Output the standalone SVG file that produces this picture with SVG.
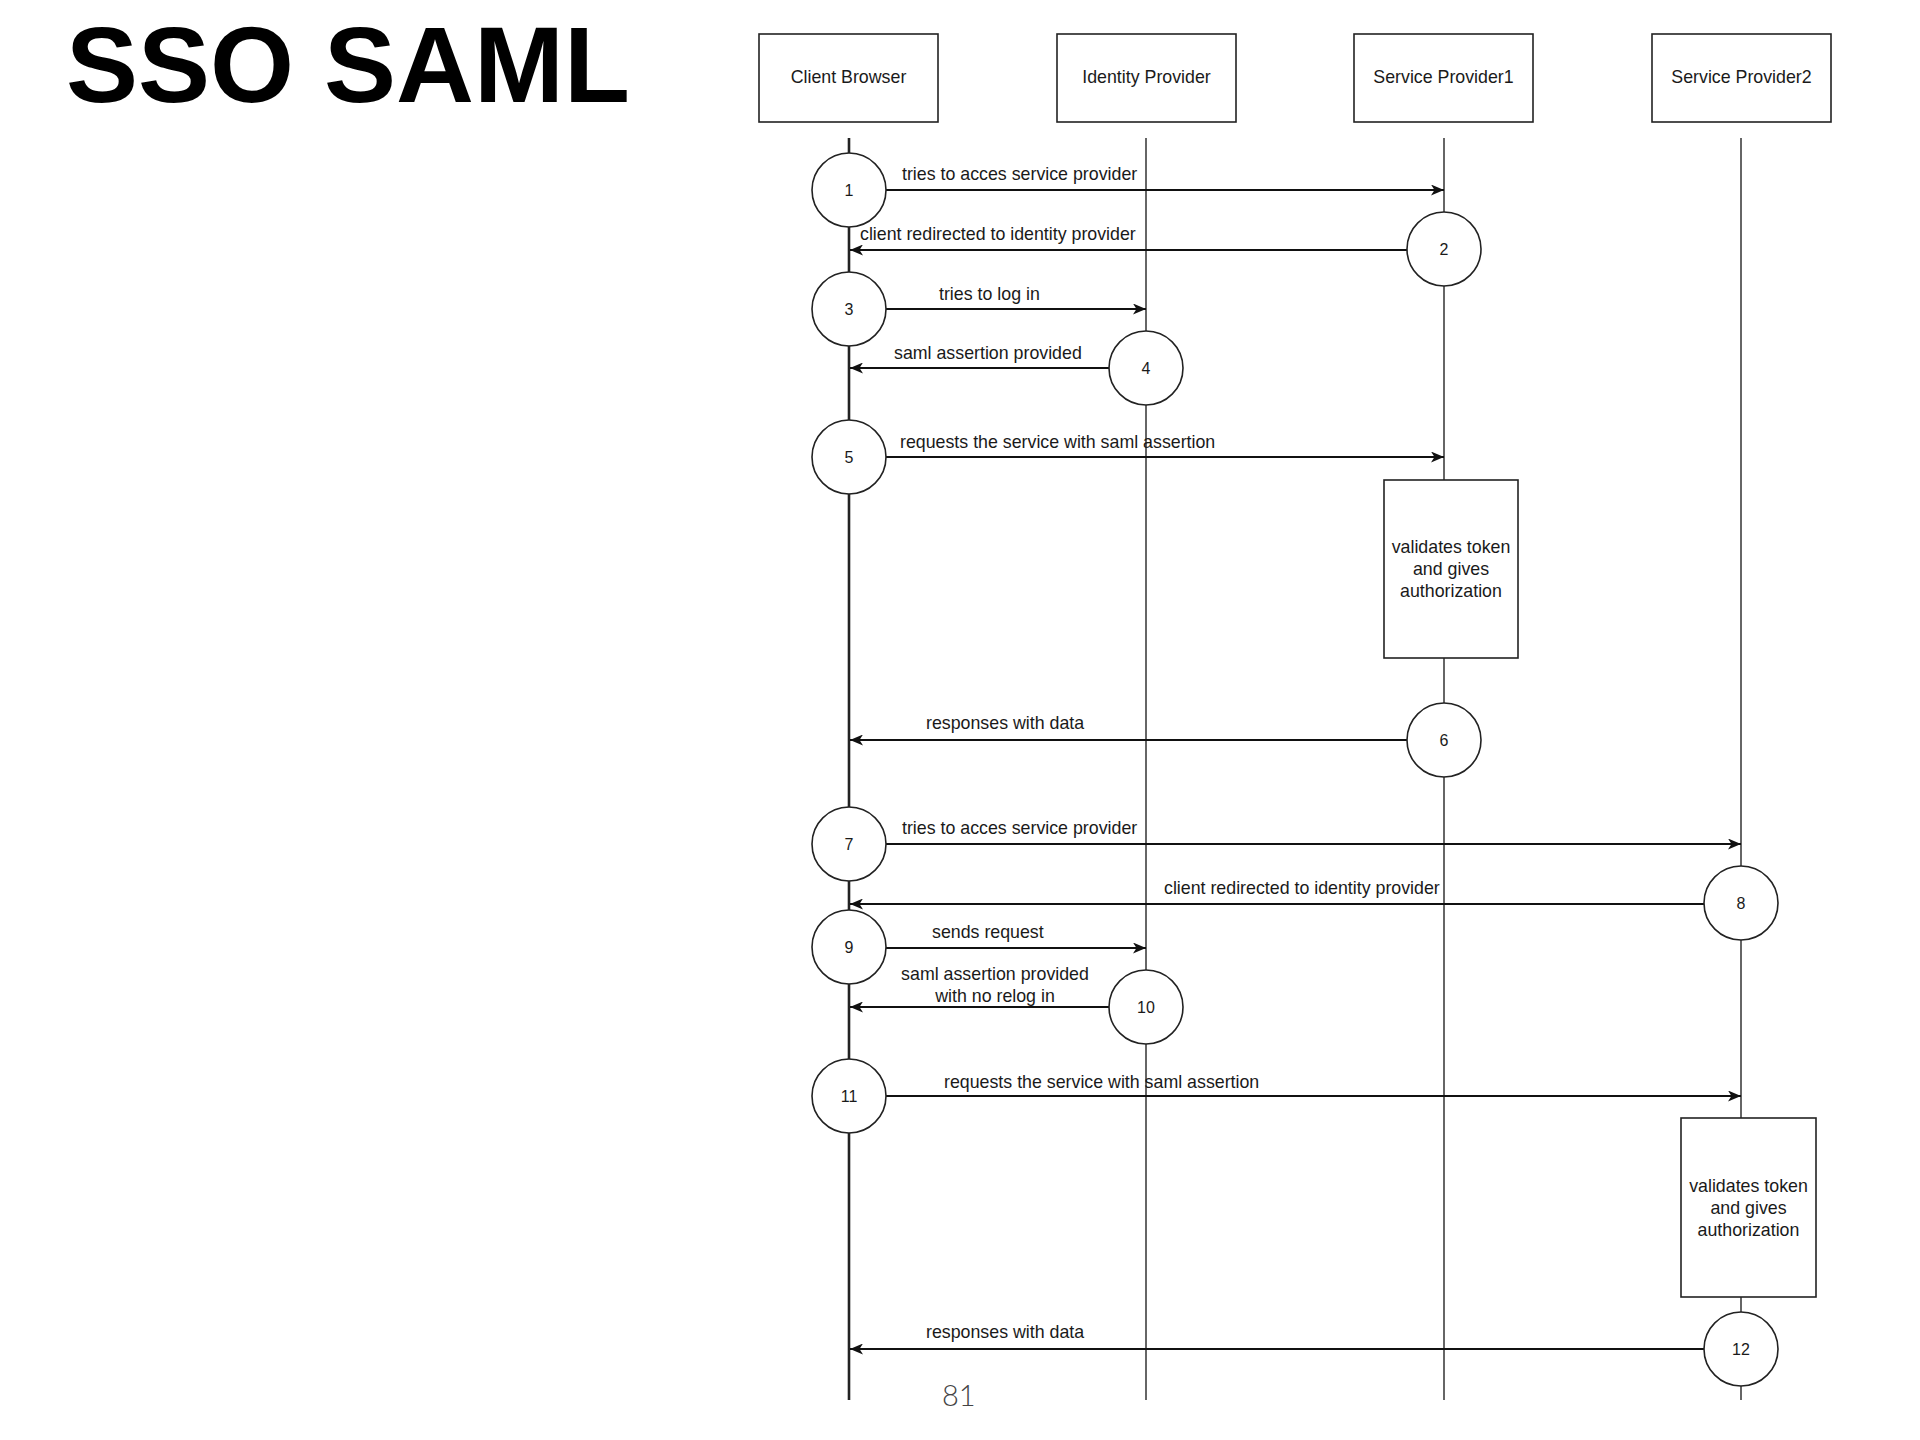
<svg xmlns="http://www.w3.org/2000/svg" width="1920" height="1440" viewBox="0 0 1920 1440">
<defs>
<marker id="ah" viewBox="0 0 13 11" refX="13" refY="5.5" markerWidth="13" markerHeight="11" markerUnits="userSpaceOnUse" orient="auto">
<path d="M0,0 L13,5.5 L0,11 L3.5,5.5 Z" fill="#111"/>
</marker>
</defs>
<style>
.box{fill:#fff;stroke:#222;stroke-width:1.6}
.life{stroke:#333;stroke-width:1.5;fill:none}
.life0{stroke:#222;stroke-width:2.6;fill:none}
.circ{fill:#fff;stroke:#222;stroke-width:1.6}
.msg{stroke:#111;stroke-width:1.8;fill:none;marker-end:url(#ah)}
.t{font-family:"Liberation Sans",Arial,sans-serif;font-size:17.8px;fill:#1a1a1a}
.c{text-anchor:middle}
.n{font-family:"Liberation Sans",Arial,sans-serif;font-size:16px;fill:#1a1a1a;text-anchor:middle}
</style>
<rect width="1920" height="1440" fill="#fff"/>
<text x="66" y="102" font-family="Liberation Sans, Arial, sans-serif" font-weight="bold" font-size="108" fill="#000">SSO SAML</text>
<text x="942" y="1406" font-family="Lato, 'Open Sans', sans-serif" font-weight="300" font-size="29" fill="#444">81</text>

<g id="lifelines">
<line class="life0" x1="849" y1="138" x2="849" y2="1400"/>
<line class="life" x1="1146" y1="138" x2="1146" y2="1400"/>
<line class="life" x1="1444" y1="138" x2="1444" y2="1400"/>
<line class="life" x1="1741" y1="138" x2="1741" y2="1400"/>
</g>

<g id="client-browser"><rect class="box" x="759" y="34" width="179" height="88"/><text class="t c" x="848.5" y="83">Client Browser</text></g>
<g id="identity-provider"><rect class="box" x="1057" y="34" width="179" height="88"/><text class="t c" x="1146.5" y="83">Identity Provider</text></g>
<g id="service-provider1"><rect class="box" x="1354" y="34" width="179" height="88"/><text class="t c" x="1443.5" y="83">Service Provider1</text></g>
<g id="service-provider2"><rect class="box" x="1652" y="34" width="179" height="88"/><text class="t c" x="1741.5" y="83">Service Provider2</text></g>

<g id="validate1"><rect class="box" x="1384" y="480" width="134" height="178"/><text class="t c" x="1451" y="553">validates token</text><text class="t c" x="1451" y="575">and gives</text><text class="t c" x="1451" y="597">authorization</text></g>
<g id="validate2"><rect class="box" x="1681" y="1118" width="135" height="179"/><text class="t c" x="1748.5" y="1192">validates token</text><text class="t c" x="1748.5" y="1214">and gives</text><text class="t c" x="1748.5" y="1236">authorization</text></g>

<g id="connectors">
<line class="msg" x1="886" y1="190" x2="1444" y2="190"/>
<line class="msg" x1="1407" y1="250" x2="850" y2="250"/>
<line class="msg" x1="886" y1="309" x2="1146" y2="309"/>
<line class="msg" x1="1109" y1="368" x2="850" y2="368"/>
<line class="msg" x1="886" y1="457" x2="1444" y2="457"/>
<line class="msg" x1="1407" y1="740" x2="850" y2="740"/>
<line class="msg" x1="886" y1="844" x2="1741" y2="844"/>
<line class="msg" x1="1704" y1="904" x2="850" y2="904"/>
<line class="msg" x1="886" y1="948" x2="1146" y2="948"/>
<line class="msg" x1="1109" y1="1007" x2="850" y2="1007"/>
<line class="msg" x1="886" y1="1096" x2="1741" y2="1096"/>
<line class="msg" x1="1704" y1="1349" x2="850" y2="1349"/>
</g>

<g id="labels">
<text class="t" x="902" y="180">tries to acces service provider</text>
<text class="t" x="860" y="240">client redirected to identity provider</text>
<text class="t" x="939" y="300">tries to log in</text>
<text class="t" x="894" y="359">saml assertion provided</text>
<text class="t" x="900" y="448">requests the service with saml assertion</text>
<text class="t" x="926" y="729">responses with data</text>
<text class="t" x="902" y="834">tries to acces service provider</text>
<text class="t" x="1164" y="894">client redirected to identity provider</text>
<text class="t" x="932" y="938">sends request</text>
<text class="t c" x="995" y="980">saml assertion provided</text>
<text class="t c" x="995" y="1002">with no relog in</text>
<text class="t" x="944" y="1088">requests the service with saml assertion</text>
<text class="t" x="926" y="1338">responses with data</text>
</g>

<g id="step1"><circle class="circ" cx="849" cy="190" r="37"/><text class="n" x="849" y="196">1</text></g>
<g id="step2"><circle class="circ" cx="1444" cy="249" r="37"/><text class="n" x="1444" y="255">2</text></g>
<g id="step3"><circle class="circ" cx="849" cy="309" r="37"/><text class="n" x="849" y="315">3</text></g>
<g id="step4"><circle class="circ" cx="1146" cy="368" r="37"/><text class="n" x="1146" y="374">4</text></g>
<g id="step5"><circle class="circ" cx="849" cy="457" r="37"/><text class="n" x="849" y="463">5</text></g>
<g id="step6"><circle class="circ" cx="1444" cy="740" r="37"/><text class="n" x="1444" y="746">6</text></g>
<g id="step7"><circle class="circ" cx="849" cy="844" r="37"/><text class="n" x="849" y="850">7</text></g>
<g id="step8"><circle class="circ" cx="1741" cy="903" r="37"/><text class="n" x="1741" y="909">8</text></g>
<g id="step9"><circle class="circ" cx="849" cy="947" r="37"/><text class="n" x="849" y="953">9</text></g>
<g id="step10"><circle class="circ" cx="1146" cy="1007" r="37"/><text class="n" x="1146" y="1013">10</text></g>
<g id="step11"><circle class="circ" cx="849" cy="1096" r="37"/><text class="n" x="849" y="1102">11</text></g>
<g id="step12"><circle class="circ" cx="1741" cy="1349" r="37"/><text class="n" x="1741" y="1355">12</text></g>
</svg>
